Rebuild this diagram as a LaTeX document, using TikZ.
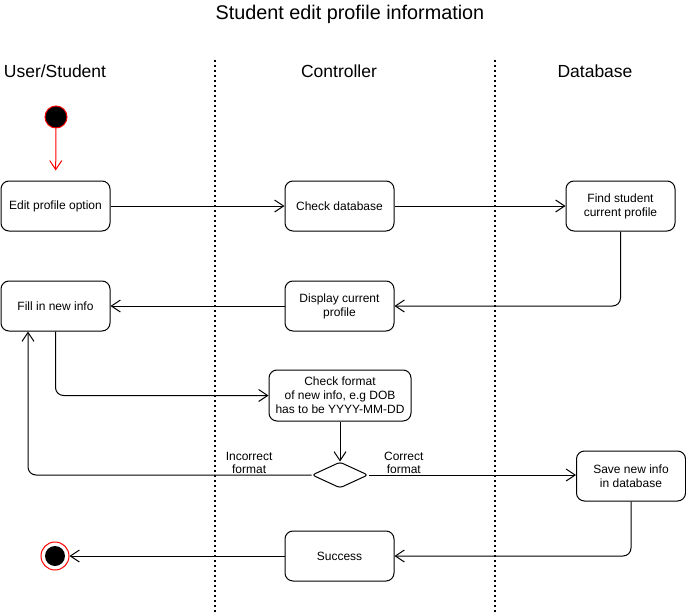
\documentclass[tikz,border=0pt]{standalone}
\usepackage{fontspec}
\setmainfont{Liberation Sans}
\usetikzlibrary{shapes.geometric,arrows.meta,positioning}

\begin{document}
\begin{tikzpicture}[x=1pt, y=-1pt, line width=1pt,
  act/.style={draw, rounded corners=8pt, fill=white, minimum width=109pt, minimum height=50pt, align=center, inner sep=2pt, font=\fontsize{12}{14}\selectfont},
  lane/.style={font=\fontsize{17.5}{19}\selectfont},
  guard/.style={align=center, inner sep=1pt, font=\fontsize{12}{13}\selectfont},
  >={Straight Barb[length=9pt, width=12pt]}]

\useasboundingbox (0,0) rectangle (686,613);

\node[font=\fontsize{19.8}{22}\selectfont] (title) at (350,14) {Student edit profile information};

% swimlanes
\node[lane] (user) at (55,71) {User/Student};
\node[lane] (ctrl) at (339,71) {Controller};
\node[lane] (db) at (595,71) {Database};
\draw[line width=1.5pt, dash pattern=on 1.5pt off 3.5pt] (215,60) -- (215,613);
\draw[line width=1.5pt, dash pattern=on 1.5pt off 3.5pt] (495,60) -- (495,613);

% start / end
\node[draw=red, fill=black, circle, minimum size=22pt, inner sep=0pt] (start) at (56,117) {};
\node[draw=red, circle, minimum size=28pt, inner sep=0pt] (finish) at (55,556) {};
\node[fill=black, circle, minimum size=20pt, inner sep=0pt] (finishin) at (55,556) {};

% actions
\node[act] (edit) at (55.5,206) {Edit profile option};
\node[act] (checkdb) at (339.5,206) {Check database};
\node[act] (find) at (620.5,206) {Find student\\current profile};
\node[act] (fill) at (55.5,306) {Fill in new info};
\node[act] (display) at (339.5,306) {Display current\\profile};
\node[act, minimum width=142pt, minimum height=51pt] (checkfmt) at (340,395.5) {Check format\\of new info, e.g DOB\\has to be YYYY-MM-DD};
\node[draw, diamond, rounded corners=3pt, minimum width=56pt, minimum height=26pt, inner sep=0pt] (decide) at (340,475) {};
\node[act] (save) at (631,476) {Save new info\\in database};
\node[act] (success) at (339.5,556) {Success};

% flow
\draw[->, red, shorten >=10pt] (start) -- (edit);
\draw[->] (edit) -- (checkdb);
\draw[->] (checkdb) -- (find);
\draw[->, rounded corners=8pt] (find.south) |- (display.east);
\draw[->] (display) -- (fill);
\draw[->, rounded corners=8pt] (fill.south) |- (checkfmt.west);
\draw[->] (checkfmt) -- (decide);
\draw[->, rounded corners=8pt] (decide.west) -| node[pos=0.11, above, guard] {Incorrect\\format} ([xshift=-27.5pt]fill.south);
\draw[->] (decide.east) -- node[pos=0.17, above, guard] {Correct\\format} (save.west |- decide.east);
\draw[->, rounded corners=8pt] (save.south) |- (success.east);
\draw[->] (success) -- (finish);

\end{tikzpicture}
\end{document}
